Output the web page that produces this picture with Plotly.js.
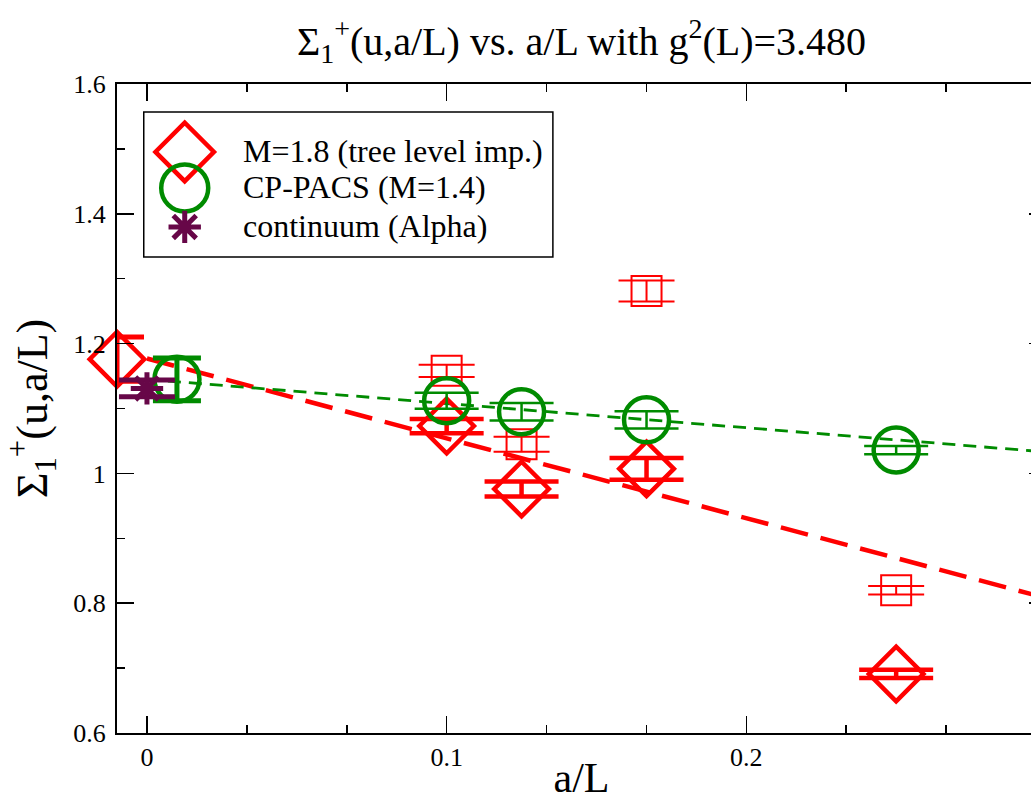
<!DOCTYPE html>
<html>
<head>
<meta charset="utf-8">
<script src="https://cdn.plot.ly/plotly-3.0.1.min.js"></script>
<style>
html, body { margin: 0; padding: 0; overflow: hidden; background: #fff; }
#chart { width: 1100px; height: 801px; }
</style>
</head>
<body>
<div id="chart"></div>
<script>
// ---- data ----
const aL = [0.1, 0.125, 0.1667, 0.25];

// M=1.8 (tree level imp.)
const treeImp    = [1.073, 0.976, 1.007, 0.691];
const treeImpErr = [0.011, 0.0115, 0.0167, 0.0064];
// continuum extrapolation of M=1.8 (shown shifted to a/L=-0.01)
const treeImpContX = [-0.01];
const treeImpCont = [1.176];
const treeImpContErr = [0.034];

// M=1.8 without improvement (open squares, not in legend)
const noImp    = [1.158, 1.045, 1.281, 0.820];
const noImpErr = [0.0095, 0.0115, 0.0162, 0.0065];

// CP-PACS (M=1.4)
const cppacs    = [1.112, 1.095, 1.0825, 1.036];
const cppacsErr = [0.0123, 0.0133, 0.0133, 0.0064];
const cppacsContX = [0.01];
const cppacsCont = [1.145];
const cppacsContErr = [0.033];

// continuum (Alpha)
const alphaX = [0];
const alpha = [1.131];
const alphaErr = [0.013];

// fit lines (end points)
const fitX = [0, 0.3];
const fitTreeImp = [1.177, 0.808];
const fitCppacs = [1.145, 1.033];

// tick labels
const xTickVals = [0, 0.1, 0.2, 0.3];
const xTickText = ["0", "0.1", "0.2", ""];

// legend labels
const legendLabels = ["M=1.8 (tree level imp.)", "CP-PACS (M=1.4)", "continuum (Alpha)"];

// ---- styles ----
const RED = "rgb(255,0,0)";
const GREEN = "rgb(0,139,0)";
const MAROON = "rgb(103,7,72)";
const FONT = "Liberation Serif, Times New Roman, serif";

const traces = [
  { x: fitX, y: fitTreeImp, mode: "lines", line: {color: RED, width: 4.5, dash: "28px,13px"}, hoverinfo: "skip" },
  { x: fitX, y: fitCppacs, mode: "lines", line: {color: GREEN, width: 2.8, dash: "13px,8px"}, hoverinfo: "skip" },
  { x: aL, y: noImp, mode: "markers",
    marker: {symbol: "square-open", size: 30, color: RED, line: {width: 2, color: RED}},
    error_y: {type: "data", array: noImpErr, visible: true, color: RED, thickness: 2, width: 28} },
  { x: aL, y: treeImp, mode: "markers",
    marker: {symbol: "diamond-open", size: 42, color: RED, line: {width: 4.5, color: RED}},
    error_y: {type: "data", array: treeImpErr, visible: true, color: RED, thickness: 4.5, width: 37} },
  { x: treeImpContX, y: treeImpCont, mode: "markers",
    marker: {symbol: "diamond-open", size: 42, color: RED, line: {width: 4.5, color: RED}},
    error_y: {type: "data", array: treeImpContErr, visible: true, color: RED, thickness: 5, width: 27} },
  { x: aL, y: cppacs, mode: "markers",
    marker: {symbol: "circle-open", size: 45, color: GREEN, line: {width: 4.5, color: GREEN}},
    error_y: {type: "data", array: cppacsErr, visible: true, color: GREEN, thickness: 2.5, width: 32} },
  { x: cppacsContX, y: cppacsCont, mode: "markers",
    marker: {symbol: "circle-open", size: 45, color: GREEN, line: {width: 4.5, color: GREEN}},
    error_y: {type: "data", array: cppacsContErr, visible: true, color: GREEN, thickness: 5, width: 24} },
  { x: alphaX, y: alpha, mode: "markers",
    marker: {symbol: "asterisk-open", size: 27, color: MAROON, line: {width: 5, color: MAROON}},
    error_y: {type: "data", array: alphaErr, visible: true, color: MAROON, thickness: 5, width: 28} }
];
traces.forEach(t => { t.type = "scatter"; t.showlegend = false; t.cliponaxis = false; });

// hand-drawn legend (symbols on an overlay axis in plot-fraction units)
const legX = 0.0729;
const legY = [0.8953, 0.8398, 0.7798];
const legSymbols = [
  {symbol: "diamond-open", size: 45, color: RED, lw: 4.5},
  {symbol: "circle-open", size: 47, color: GREEN, lw: 4.5},
  {symbol: "asterisk-open", size: 27, color: MAROON, lw: 5}
];
legSymbols.forEach((s, i) => {
  traces.push({
    type: "scatter", x: [legX], y: [legY[i]], xaxis: "x2", yaxis: "y2",
    mode: "markers", showlegend: false, cliponaxis: false, hoverinfo: "skip",
    marker: {symbol: s.symbol, size: s.size, color: s.color, line: {width: s.lw, color: s.color}}
  });
});

const annotations = legendLabels.map((t, i) => ({
  text: t, xref: "paper", yref: "paper", x: 0.1332, y: legY[i] + 0.002,
  xanchor: "left", yanchor: "middle", showarrow: false,
  font: {family: FONT, size: 32, color: "#000"}
}));

const axisCommon = {
  showline: true, linecolor: "#000", linewidth: 2, mirror: "allticks",
  ticks: "inside", ticklen: 17, tickwidth: 1.5, tickcolor: "#000",
  showgrid: false, zeroline: false,
  tickfont: {family: FONT, size: 26, color: "#000"}
};

const layout = {
  width: 1100, height: 801,
  margin: {l: 117, r: 54, t: 84, b: 68, autoexpand: false},
  paper_bgcolor: "#fff", plot_bgcolor: "#fff",
  showlegend: false,
  title: {
    text: "Σ<sub>1</sub><sup>+</sup>(u,a/L) vs. a/L with g<sup>2</sup>(L)=3.480",
    font: {family: FONT, size: 40, color: "#000"},
    xref: "paper", x: 0.5, xanchor: "center",
    yref: "container", y: 1 - 41 / 801, yanchor: "middle"
  },
  xaxis: Object.assign({}, axisCommon, {
    range: [-0.01, 0.3], tickmode: "array", tickvals: xTickVals, ticktext: xTickText,
    minor: {dtick: 0.1 / 3, tick0: 0, ticklen: 8, tickwidth: 1.5, tickcolor: "#000", ticks: "inside"},
    title: {text: "a/L", font: {family: FONT, size: 42, color: "#000"}, standoff: 4}
  }),
  yaxis: Object.assign({}, axisCommon, {
    range: [0.6, 1.6], dtick: 0.2, tick0: 0.6,
    minor: {dtick: 0.1, ticklen: 8, tickwidth: 1.5, tickcolor: "#000", ticks: "inside"},
    ticklabelstandoff: 4,
    title: {text: "Σ<sub>1</sub><sup>+</sup>(u,a/L)", font: {family: FONT, size: 44, color: "#000"}, standoff: 12}
  }),
  xaxis2: {overlaying: "x", range: [0, 1], visible: false, fixedrange: true},
  yaxis2: {overlaying: "y", range: [0, 1], visible: false, fixedrange: true},
  shapes: [{
    type: "rect", xref: "paper", yref: "paper",
    x0: 0.0288, x1: 0.4692, y0: 0.7336, y1: 0.9569,
    line: {color: "#000", width: 1.5}, fillcolor: "rgba(0,0,0,0)", layer: "above"
  }],
  annotations: annotations
};

Plotly.newPlot("chart", traces, layout, {displayModeBar: false, staticPlot: true});
</script>
</body>
</html>
